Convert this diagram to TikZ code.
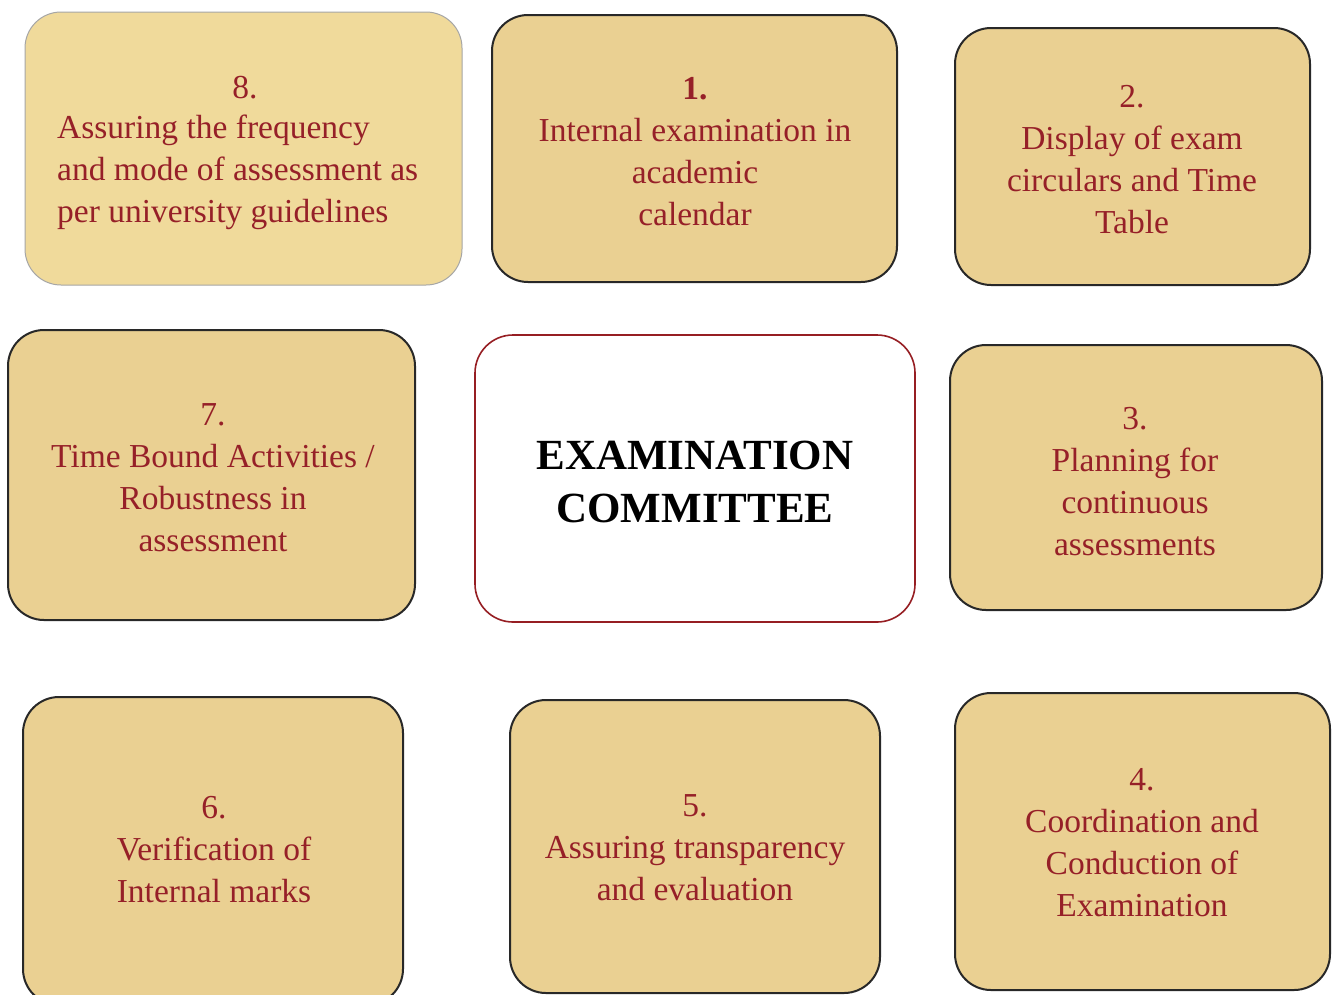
\documentclass[tikz,border=0pt]{standalone}
\usepackage{fontspec}
\setmainfont{LiberationSerif}[Extension=.ttf,UprightFont=*-Regular,BoldFont=*-Bold,ItalicFont=*-Italic,BoldItalicFont=*-BoldItalic]
\definecolor{tan}{RGB}{234,208,146}
\definecolor{tanlight}{RGB}{240,218,155}
\definecolor{txtred}{RGB}{150,32,40}
\definecolor{boxline}{RGB}{40,40,40}
\definecolor{cred}{RGB}{150,30,35}
\begin{document}
\begin{tikzpicture}[x=1pt,y=-1pt,
  card/.style={draw=boxline,line width=2pt,fill=tan,rounded corners=36pt},
  txt/.style={text=txtred,align=center,font=\fontsize{33.5}{42}\selectfont,inner sep=0pt},
  centre/.style={draw=cred,line width=1.6pt,fill=white,rounded corners=38pt},
  ctxt/.style={align=center,font=\fontsize{43}{53}\selectfont\bfseries,inner sep=0pt}]
\useasboundingbox (0,0) rectangle (1335,994);
\fill[white] (0,0) rectangle (1335,994);
% cards
\draw[card,draw=gray!70,line width=1pt,fill=tanlight] (25,12) rectangle (462,285);
\node (b8) at (243.5,148.5) {};
\draw[card] (492,15) rectangle (897,282);
\node (b1) at (694.5,148.5) {};
\draw[card] (955,28) rectangle (1310,285);
\node (b2) at (1132.5,156.5) {};
\draw[card] (8,330) rectangle (415,620);
\node (b7) at (211.5,475) {};
\draw[centre] (475,335) rectangle (915,622);
\node (bc) at (695,478.5) {};
\draw[card] (950,345) rectangle (1322,610);
\node (b3) at (1136,477.5) {};
\draw[card] (23,697) rectangle (403,1005);
\node (b6) at (213,850) {};
\draw[card] (510,700) rectangle (880,993);
\node (b5) at (695,846) {};
\draw[card] (955,693) rectangle (1330,990);
\node (b4) at (1142.5,841) {};
% texts
\node[txt] (n8) at (245,88) {8.};
\node[txt,align=left,anchor=west] (t8) at (57,172) {Assuring the frequency\\and mode of assessment as\\per university guidelines};
\node[txt] (t1) at (695,152) {\textbf{1.}\\Internal examination in\\academic\\calendar};
\node[txt] (t2) at (1132,160) {2.\\Display of exam\\circulars and Time\\Table};
\node[txt] (t7) at (213,478) {7.\\Time Bound Activities /\\Robustness in\\assessment};
\node[ctxt] (tc) at (695,482) {EXAMINATION\\COMMITTEE};
\node[txt] (t3) at (1135,482) {3.\\Planning for\\continuous\\assessments};
\node[txt] (t6) at (214,850) {6.\\Verification of\\Internal marks};
\node[txt] (t5) at (695,848) {5.\\Assuring transparency\\and evaluation};
\node[txt] (t4) at (1142,843) {4.\\Coordination and\\Conduction of\\Examination};
\end{tikzpicture}
\end{document}
